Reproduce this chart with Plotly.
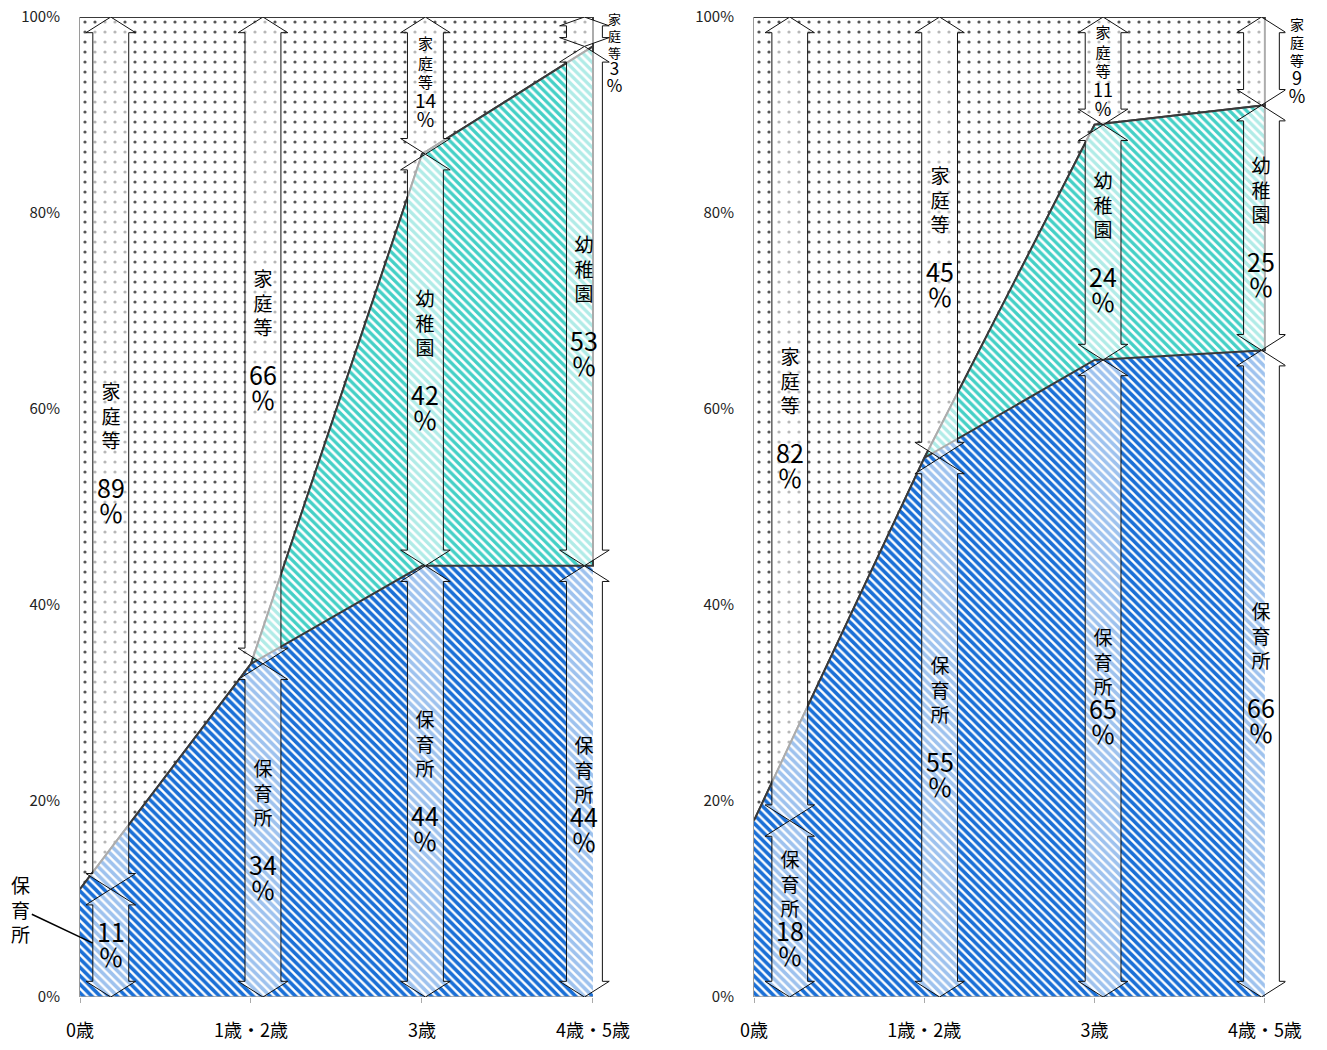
import plotly.graph_objects as go

# ---------------- data ----------------
categories = ["0歳", "1歳・2歳", "3歳", "4歳・5歳"]
series_names = ["保育所", "幼稚園", "家庭等"]

left_hoikusho = [11, 34, 44, 44]
left_youchien = [0, 0, 42, 53]
left_katei = [89, 66, 14, 3]

right_hoikusho = [18, 55, 65, 66]
right_youchien = [0, 0, 24, 25]
right_katei = [82, 45, 11, 9]

y_tick_values = [0, 20, 40, 60, 80, 100]
y_tick_text = ["0%", "20%", "40%", "60%", "80%", "100%"]

# ---------------- styling ----------------
FONT = "Noto Sans CJK JP"
BLUE = "#1a6fd6"
TEAL = "#44d0c6"
OUTLINE = "#3a3a3a"

left_arrow_x = [0.18, 1.07, 2.02, 2.95]
right_arrow_x = [0.21, 1.09, 2.05, 2.98]

fig = go.Figure()


def add_panel(xa, ya, hoiku, youchi, katei, arrow_x, specials):
    xs = list(range(len(categories)))
    s1 = hoiku
    s2 = [a + b for a, b in zip(hoiku, youchi)]
    top = [a + b + c for a, b, c in zip(hoiku, youchi, katei)]

    # 家庭等 area (dots)
    fig.add_trace(go.Scatter(
        x=xs + xs[::-1], y=top + s2[::-1], xaxis=xa, yaxis=ya,
        mode="lines", fill="toself", fillcolor="white",
        fillpattern=dict(shape=".", fgcolor="#555555", bgcolor="white", size=10,
                         solidity=0.08, fgopacity=1),
        line=dict(color=OUTLINE, width=2), hoverinfo="skip", showlegend=False))
    # 保育所 area (blue stripes)
    fig.add_trace(go.Scatter(
        x=xs + xs[::-1], y=s1 + [0] * len(xs), xaxis=xa, yaxis=ya,
        mode="lines", fill="toself", fillcolor="white",
        fillpattern=dict(shape="\\", fgcolor=BLUE, bgcolor="white", size=6,
                         solidity=0.6, fgopacity=1),
        line=dict(width=0), hoverinfo="skip", showlegend=False))
    # 幼稚園 area (teal stripes)
    fig.add_trace(go.Scatter(
        x=xs + xs[::-1], y=s2 + s1[::-1], xaxis=xa, yaxis=ya,
        mode="lines", fill="toself", fillcolor="white",
        fillpattern=dict(shape="\\", fgcolor=TEAL, bgcolor="white", size=6,
                         solidity=0.55, fgopacity=1),
        line=dict(color=OUTLINE, width=2), hoverinfo="skip", showlegend=False))
    # baseline
    fig.add_trace(go.Scatter(
        x=[xs[0], xs[-1]], y=[0, 0], xaxis=xa, yaxis=ya, mode="lines",
        line=dict(color="#9a9a9a", width=1.5), hoverinfo="skip", showlegend=False))

    # arrows + labels
    for i in xs:
        bounds = [0, s1[i], s2[i], top[i]]
        vals = [hoiku[i], youchi[i], katei[i]]
        for k in range(3):
            if vals[k] <= 0:
                continue
            y0, y1 = bounds[k], bounds[k + 1]
            xc = arrow_x[i]
            hw, hh = 0.105, 0.145
            hl = min(1.6, (y1 - y0) * 0.3)
            ax_ = [xc, xc + hh, xc + hw, xc + hw, xc + hh, xc, xc - hh, xc - hw, xc - hw, xc - hh, xc]
            ay_ = [y0, y0 + hl, y0 + hl, y1 - hl, y1 - hl, y1, y1 - hl, y1 - hl, y0 + hl, y0 + hl, y0]
            fig.add_trace(go.Scatter(
                x=ax_, y=ay_, xaxis=xa, yaxis=ya, mode="lines", fill="toself",
                fillcolor="rgba(255,255,255,0.58)", line=dict(color="#111111", width=1),
                hoverinfo="skip", showlegend=False))

            sp = specials.get((i, k), {})
            name = series_names[k]
            fs_name = sp.get("fs_name", 19)
            fs_num = sp.get("fs_num", 25)
            parts = []
            if sp.get("show_name", True):
                parts += list(name)
                if sp.get("gap", True):
                    parts.append("")
            parts.append(f"<span style='font-size:{fs_num}px'>{vals[k]}</span>")
            parts.append(f"<span style='font-size:{fs_num}px'>％</span>")
            text = "<br>".join(parts)
            if sp.get("top"):
                fig.add_annotation(
                    x=xc, y=y1, xref=xa, yref=ya, text=text, showarrow=False,
                    xshift=sp.get("xshift", 0), yshift=sp.get("yshift", 0),
                    font=dict(family=FONT, size=fs_name, color="black"),
                    xanchor="center", yanchor="top", align="center")
            else:
                fig.add_annotation(
                    x=xc, y=(y0 + y1) / 2, xref=xa, yref=ya, text=text, showarrow=False,
                    xshift=sp.get("xshift", 0), yshift=sp.get("yshift", 0),
                    font=dict(family=FONT, size=fs_name, color="black"),
                    xanchor="center", yanchor="middle", align="center")
            if "outside_name" in sp:
                fig.add_annotation(
                    x=xc - hw, y=(y0 + y1) / 2, xref=xa, yref=ya,
                    text="<br>".join(list(name)), showarrow=True, arrowhead=0,
                    arrowwidth=1.5, arrowcolor="black", ax=-72, ay=-34, standoff=0,
                    font=dict(family=FONT, size=19, color="black"))


left_specials = {
    (0, 0): {"show_name": False, "outside_name": True},
    (2, 2): {"gap": False, "fs_name": 15, "fs_num": 19, "yshift": 4},
    (3, 0): {"gap": False, "yshift": -14},
    (3, 2): {"gap": False, "fs_name": 13, "fs_num": 17, "xshift": 30, "top": True, "yshift": 10},
}
right_specials = {
    (0, 0): {"gap": False},
    (2, 0): {"gap": False, "yshift": -8},
    (2, 2): {"gap": False, "fs_name": 15, "fs_num": 18},
    (3, 2): {"gap": False, "fs_name": 14, "fs_num": 18, "xshift": 36},
}

add_panel("x", "y", left_hoikusho, left_youchien, left_katei, left_arrow_x, left_specials)
add_panel("x2", "y2", right_hoikusho, right_youchien, right_katei, right_arrow_x, right_specials)

# the page body adds an 8px margin; lay out in page pixels minus that offset
OFF = 8
W, H = 1319, 1042
ydom = [1 - (997 - OFF) / H, 1 - (17 - OFF) / H]
xcommon = dict(range=[0, 3.12], tickvals=[0, 1, 2, 3], ticktext=categories,
               showgrid=False, zeroline=False, showline=False, automargin=False,
               ticks="outside", ticklen=5, tickcolor="#aaaaaa",
               tickfont=dict(family=FONT, size=18, color="black"),
               ticklabelstandoff=12, fixedrange=True)
ycommon = dict(range=[0, 100], tickvals=y_tick_values, ticktext=y_tick_text,
               showgrid=False, zeroline=False, showline=True, linecolor="#9a9a9a",
               linewidth=1, ticks="", automargin=False, ticklabeloverflow="allow",
               tickfont=dict(family=FONT, size=15, color="#222222"),
               ticklabelstandoff=16, fixedrange=True)

fig.update_layout(
    width=W, height=H,
    margin=dict(l=0, r=0, t=0, b=0, autoexpand=False),
    paper_bgcolor="white", plot_bgcolor="white",
    xaxis=dict(domain=[(80 - OFF) / W, (613.5 - OFF) / W], anchor="y", **xcommon),
    yaxis=dict(domain=ydom, anchor="x", **ycommon),
    xaxis2=dict(domain=[(754 - OFF) / W, (1285.3 - OFF) / W], anchor="y2", **xcommon),
    yaxis2=dict(domain=ydom, anchor="x2", **ycommon),
    showlegend=False,
)

fig.write_html("out.html")
